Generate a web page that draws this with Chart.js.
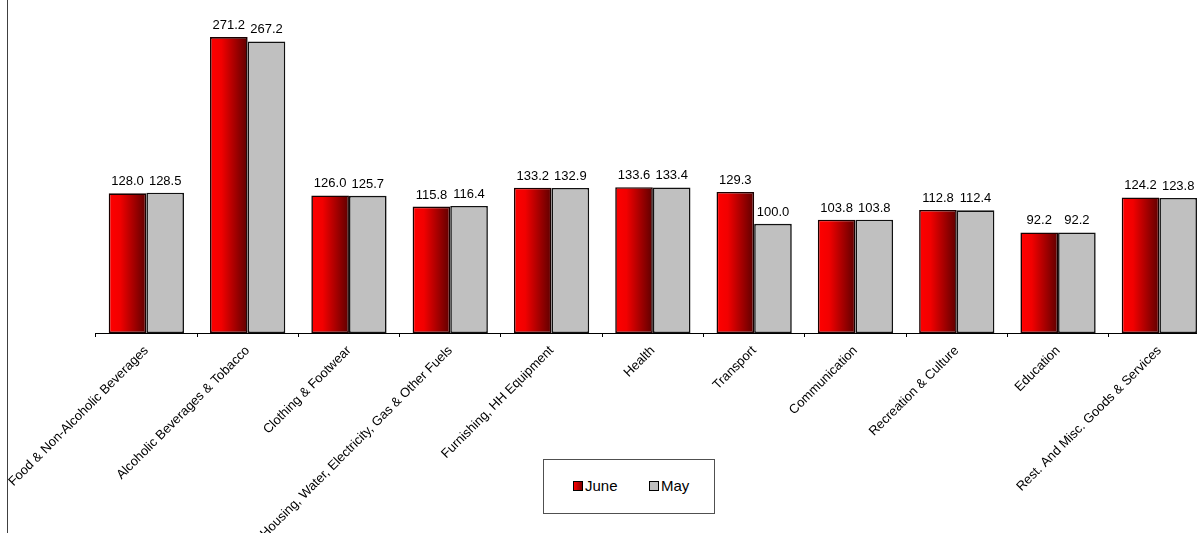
<!DOCTYPE html>
<html>
<head>
<meta charset="utf-8">
<script src="https://cdn.jsdelivr.net/npm/chart.js@4"></script>
<style>
  html, body { margin: 0; padding: 0; background: #fff; overflow: hidden; }
  #wrap { position: absolute; left: 0; top: 0; width: 1210px; height: 533px; }
  #edge { position: absolute; left: 7px; top: 0; width: 1px; height: 533px; background: #404040; }
  #legend {
    position: absolute; left: 543px; top: 459px; width: 170px; height: 53px;
    border: 1px solid #505050; background: #fff;
    font-family: "Liberation Sans", Arial, sans-serif; font-size: 15px; color: #000;
  }
  .item { position: absolute; top: 17px; line-height: 18px; }
  .sw { display: inline-block; width: 8px; height: 8px; border: 1px solid #000; margin-right: 2px; vertical-align: 0px; }
</style>
</head>
<body>
<div id="wrap"><canvas id="cpiChart"></canvas></div>
<div id="edge"></div>
<div id="legend">
  <div class="item" style="left:29px"><span class="sw" style="background:linear-gradient(90deg,#ff0000,#800000)"></span>June</div>
  <div class="item" style="left:105px"><span class="sw" style="background:#c0c0c0"></span>May</div>
</div>
<script>
// categories and values
const categories = [
    'Food & Non-Alcoholic Beverages',
    'Alcoholic Beverages & Tobacco',
    'Clothing & Footwear',
    'Housing, Water, Electricity, Gas & Other Fuels',
    'Furnishing, HH Equipment',
    'Health',
    'Transport',
    'Communication',
    'Recreation & Culture',
    'Education',
    'Rest. And Misc. Goods & Services'
];
const juneValues = [128.0, 271.2, 126.0, 115.8, 133.2, 133.6, 129.3, 103.8, 112.8, 92.2, 124.2];
const mayValues = [128.5, 267.2, 125.7, 116.4, 132.9, 133.4, 100.0, 103.8, 112.4, 92.2, 123.8];

const CAT_PCT = 0.743;

// horizontal red gradient per bar, based on the x scale position
function juneGradient(context) {
    const chart = context.chart;
    const xScale = chart.scales.x;
    if (!chart.chartArea || !xScale || context.dataIndex === undefined) return '#e00000';
    const center = xScale.getPixelForValue(context.dataIndex);
    const barW = (xScale.width / categories.length) * CAT_PCT / 2;
    const left = center - barW;
    const g = chart.ctx.createLinearGradient(left, 0, center, 0);
    g.addColorStop(0, '#ff0000');
    g.addColorStop(0.3, '#f20000');
    g.addColorStop(1, '#5e0000');
    return g;
}

const valueLabels = {
    id: 'valueLabels',
    afterDatasetsDraw(chart) {
        const ctx = chart.ctx;
        ctx.save();
        ctx.font = '13px "Liberation Sans", Arial, sans-serif';
        ctx.fillStyle = '#000';
        ctx.textAlign = 'center';
        ctx.textBaseline = 'alphabetic';
        chart.data.datasets.forEach((ds, i) => {
            chart.getDatasetMeta(i).data.forEach((bar, j) => {
                ctx.fillText(ds.data[j].toFixed(1), bar.x, bar.y - 8);
            });
        });
        ctx.restore();
    }
};

new Chart(document.getElementById('cpiChart'), {
    type: 'bar',
    data: {
        labels: categories,
        datasets: [{
            label: 'June',
            data: juneValues,
            backgroundColor: juneGradient,
            borderColor: '#1a0000',
            borderWidth: 1.6,
            borderSkipped: false
        }, {
            label: 'May',
            data: mayValues,
            backgroundColor: '#c0c0c0',
            borderColor: '#111',
            borderWidth: 1.6,
            borderSkipped: false
        }]
    },
    options: {
        responsive: true,
        maintainAspectRatio: false,
        animation: false,
        datasets: { bar: { categoryPercentage: CAT_PCT, barPercentage: 1.0 } },
        layout: { padding: { left: 95.7, top: 5.6, right: 0, bottom: 0 } },
        plugins: { legend: { display: false }, tooltip: { enabled: false } },
        scales: {
            x: {
                grid: { drawOnChartArea: false, drawTicks: true, tickLength: 4, color: '#000' },
                border: { color: '#000', width: 1 },
                ticks: {
                    autoSkip: false,
                    minRotation: 45,
                    maxRotation: 45,
                    padding: 6,
                    color: '#000',
                    font: { family: '"Liberation Sans", Arial, sans-serif', size: 13 }
                },
                afterFit(scale) { scale.height = 200; }
            },
            y: {
                display: false,
                min: 0,
                max: 300
            }
        }
    },
    plugins: [valueLabels]
});
</script>
</body>
</html>
